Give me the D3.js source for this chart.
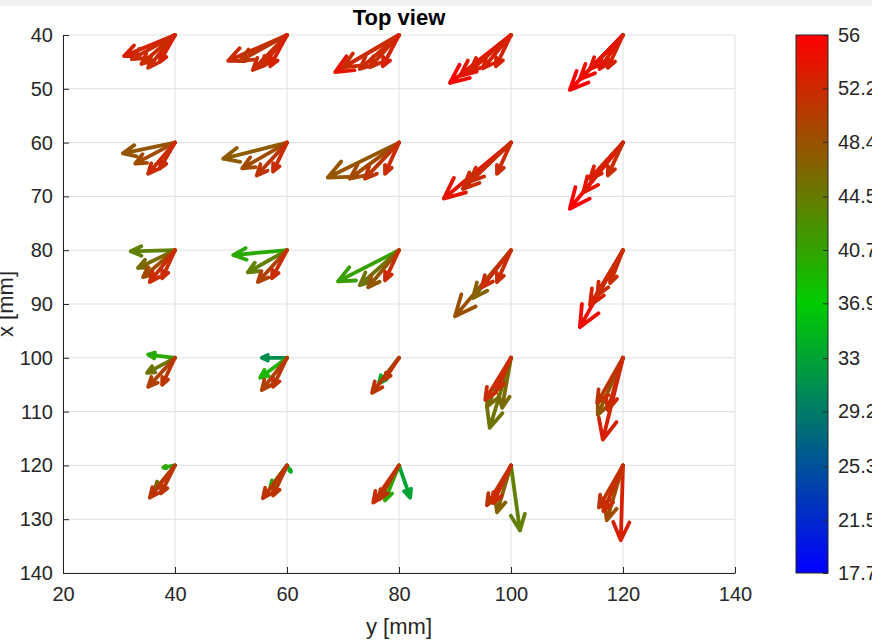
<!DOCTYPE html>
<html>
<head>
<meta charset="utf-8">
<script src="https://cdn.jsdelivr.net/npm/d3@7"></script>
<style>
  body { margin: 0; background: #fff; }
  svg { display: block; font-family: "Liberation Sans", Arial, sans-serif; }
</style>
</head>
<body>
<svg id="chart"></svg>
<script>
// grid of sensor positions (mm)
var colsY = [40, 60, 80, 100, 120];
var rowsX = [40, 60, 80, 100, 120];

// arrows per row: [y0, dy, dx, value]
var row40 = [
  [40, -9.1, 3.9, 53], [40, -7.7, 4.5, 52], [40, -6.0, 5.4, 52], [40, -4.8, 6.1, 52], [40, -2.7, 5.0, 53],
  [60, -10.5, 4.8, 52], [60, -8.4, 4.8, 51], [60, -6.1, 6.5, 52], [60, -4.5, 5.8, 52], [60, -3.0, 5.8, 53],
  [80, -11.4, 6.9, 54], [80, -10, 6, 52], [80, -7, 6.3, 52], [80, -5.2, 6.0, 52], [80, -2.9, 5.8, 53],
  [100, -10.9, 8.9, 56], [100, -9.1, 7.6, 54], [100, -7.3, 6.7, 53], [100, -5.0, 6.2, 53], [100, -2.7, 5.8, 53],
  [120, -9.5, 10.2, 56], [120, -7.7, 8.2, 55], [120, -5.9, 6.3, 54], [120, -4.2, 6.3, 54], [120, -2.7, 6.1, 53]
];
var row60 = [
  [40, -9.3, 2.0, 48], [40, -7.1, 3.9, 49], [40, -4.8, 5.8, 52], [40, -2.7, 4.8, 52],
  [60, -11.4, 3.0, 47.5], [60, -8, 4.8, 49], [60, -5.4, 6.1, 51], [60, -2.5, 5.4, 52],
  [80, -12.7, 6.5, 48], [80, -8.8, 6.7, 49], [80, -6.1, 6.7, 51], [80, -2.5, 5.8, 52],
  [100, -12, 10.4, 54], [100, -8.6, 8.6, 52], [100, -7.3, 7.2, 52], [100, -2.5, 5.8, 52],
  [120, -9.5, 12.3, 56], [120, -7.1, 9.3, 54], [120, -5.9, 6.7, 53], [120, -2.7, 6.1, 52]
];
var row80 = [
  [40, -7.9, 0.2, 44], [40, -6.6, 3.3, 46], [40, -5.7, 5.0, 49], [40, -4.5, 5.9, 52], [40, -2.3, 5.2, 52],
  [60, -9.6, 0.9, 40], [60, -7.0, 4.1, 44], [60, -5.2, 5.9, 50], [60, -2.7, 5.2, 52],
  [80, -10.9, 5.8, 41], [80, -7, 6.5, 45], [80, -5.5, 6.9, 48], [80, -2.5, 5.6, 52],
  [100, -10, 12.3, 48.5], [100, -6.8, 8.9, 47], [100, -5.2, 6.9, 52], [100, -2.5, 5.9, 52],
  [120, -7.7, 14.3, 55], [120, -5.9, 10.2, 53], [120, -4.6, 8.4, 52], [120, -2.3, 6.1, 52]
];
var row100 = [
  [40, -4.8, -0.6, 40], [40, -5.0, 2.8, 45], [40, -4.8, 5.4, 50], [40, -2.3, 5.0, 51],
  [60, -4.5, 0, 31], [60, -4.8, 3.7, 39], [60, -4.5, 6.0, 50], [60, -2.5, 5.4, 51],
  [80, -3.6, 4.8, 34], [80, -4.8, 6.5, 51], [80, -2.5, 4.0, 51],
  [100, -3.8, 13, 45], [100, -1.6, 9.3, 46], [100, -4.3, 9.1, 46], [100, -4.6, 7.8, 52], [100, -2.5, 6, 52],
  [120, -3.6, 15.2, 53], [120, -4.5, 10.6, 48], [120, -4.6, 8.4, 51], [120, -2.7, 9.7, 52]
];
var row120 = [
  [40, -2.1, 0.4, 40], [40, -3.6, 4.5, 46], [40, -4.5, 6.0, 51], [40, -2.5, 5.2, 51],
  [60, 0.7, 1.2, 34], [60, -3.0, 4.1, 40], [60, -4.3, 6.1, 51], [60, -2.5, 5.6, 51],
  [80, 2.0, 6.0, 33], [80, -2.5, 6.5, 40], [80, -4.6, 6.9, 52], [80, -3.5, 6.3, 51],
  [100, 1.6, 12.1, 44], [100, -2.5, 8.7, 47], [100, -4.3, 7.4, 51], [100, -3.2, 7, 52],
  [120, -0.4, 13.9, 53], [120, -2.9, 10.2, 49], [120, -4.3, 7.8, 51], [120, -3.5, 8.5, 52]
];
var rows = [row40, row60, row80, row100, row120];

var yTicks = [20, 40, 60, 80, 100, 120, 140];
var xTicks = [40, 50, 60, 70, 80, 90, 100, 110, 120, 130, 140];
var cbTicks = [17.7, 21.5, 25.3, 29.2, 33, 36.9, 40.7, 44.5, 48.4, 52.2, 56];
var cMin = 17.7, cMax = 56;

var width = 872, height = 641;
var svg = d3.select("#chart").attr("width", width).attr("height", height);

svg.append("rect").attr("width", width).attr("height", 6).attr("fill", "#f0f0f0");

var pL = 63, pR = 735, pT = 35, pB = 573;
var xScale = d3.scaleLinear().domain([20, 140]).range([pL, pR]);   // horizontal: y [mm]
var yScale = d3.scaleLinear().domain([40, 140]).range([pT, pB]);   // vertical: x [mm]
var color = d3.scaleLinear().domain([cMin, (cMin + cMax) / 2, cMax])
  .range(["#0000ff", "#00cc00", "#ff0000"]).interpolate(d3.interpolateRgb);

// grid
var grid = svg.append("g");
grid.selectAll(".gv").data(yTicks).enter().append("line")
  .attr("x1", function (d) { return xScale(d); }).attr("x2", function (d) { return xScale(d); })
  .attr("y1", pT).attr("y2", pB).attr("stroke", "#dfdfdf");
grid.selectAll(".gh").data(xTicks).enter().append("line")
  .attr("y1", function (d) { return yScale(d); }).attr("y2", function (d) { return yScale(d); })
  .attr("x1", pL).attr("x2", pR).attr("stroke", "#dfdfdf");

// axes (ticks pointing inward)
var xAxis = d3.axisBottom(xScale).tickValues(yTicks).tickSizeInner(-6).tickSizeOuter(0).tickPadding(14);
var yAxis = d3.axisLeft(yScale).tickValues(xTicks).tickSizeInner(-6).tickSizeOuter(0).tickPadding(10);

var gx = svg.append("g").attr("transform", "translate(0," + pB + ")").call(xAxis);
var gy = svg.append("g").attr("transform", "translate(" + pL + ",0)").call(yAxis);
[gx, gy].forEach(function (g) {
  g.select(".domain").attr("stroke", "#262626");
  g.selectAll(".tick line").attr("stroke", "#262626");
  g.selectAll(".tick text").attr("fill", "#262626").style("font-size", "20px")
    .style("font-family", "'Liberation Sans', Arial, sans-serif");
});

// arrows
var arrows = [];
rows.forEach(function (row, i) {
  row.forEach(function (a) {
    arrows.push({ y0: a[0], x0: rowsX[i], dy: a[1], dx: a[2], v: a[3] });
  });
});

function arrowPath(d) {
  var x0 = xScale(d.y0), y0 = yScale(d.x0);
  var x1 = xScale(d.y0 + d.dy), y1 = yScale(d.x0 + d.dx);
  var ux = x1 - x0, uy = y1 - y0;
  var a = 0.24, b = 0.45;
  var b1x = x1 - a * (ux - b * uy), b1y = y1 - a * (uy + b * ux);
  var b2x = x1 - a * (ux + b * uy), b2y = y1 - a * (uy - b * ux);
  return "M" + x0 + "," + y0 + "L" + x1 + "," + y1 +
    "M" + b1x + "," + b1y + "L" + x1 + "," + y1 + "L" + b2x + "," + b2y;
}

svg.append("g").selectAll("path").data(arrows).enter().append("path")
  .attr("d", arrowPath)
  .attr("fill", "none")
  .attr("stroke", function (d) { return color(d.v); })
  .attr("stroke-width", 3.8)
  .attr("stroke-linecap", "round")
  .attr("stroke-linejoin", "round");

// title and labels
svg.append("text").attr("x", (pL + pR) / 2).attr("y", 25).attr("text-anchor", "middle")
  .style("font-size", "22px").style("font-weight", "bold").attr("fill", "#000").text("Top view");
svg.append("text").attr("x", (pL + pR) / 2).attr("y", 634).attr("text-anchor", "middle")
  .style("font-size", "22px").attr("fill", "#262626").text("y [mm]");
svg.append("text").attr("transform", "translate(13," + (pT + pB) / 2 + ") rotate(-90)")
  .attr("text-anchor", "middle").style("font-size", "22px").attr("fill", "#262626").text("x [mm]");

// colorbar
var cbX = 796, cbW = 32;
var cbScale = d3.scaleLinear().domain([cMin, cMax]).range([pB, pT]);
var defs = svg.append("defs");
var grad = defs.append("linearGradient").attr("id", "cbgrad")
  .attr("x1", 0).attr("y1", 1).attr("x2", 0).attr("y2", 0);
d3.range(0, 1.0001, 0.05).forEach(function (t) {
  grad.append("stop").attr("offset", t).attr("stop-color", color(cMin + t * (cMax - cMin)));
});
svg.append("rect").attr("x", cbX).attr("y", pT).attr("width", cbW).attr("height", pB - pT)
  .attr("fill", "url(#cbgrad)").attr("stroke", "#262626").attr("stroke-width", 1);

var cbAxis = d3.axisRight(cbScale).tickValues(cbTicks).tickFormat(function (d) { return d; })
  .tickSizeInner(-5).tickSizeOuter(0).tickPadding(10);
var gc = svg.append("g").attr("transform", "translate(" + (cbX + cbW) + ",0)").call(cbAxis);
gc.select(".domain").remove();
gc.selectAll(".tick line").attr("stroke", "#262626");
gc.selectAll(".tick text").attr("fill", "#262626").style("font-size", "20px")
  .style("font-family", "'Liberation Sans', Arial, sans-serif");
</script>
</body>
</html>
